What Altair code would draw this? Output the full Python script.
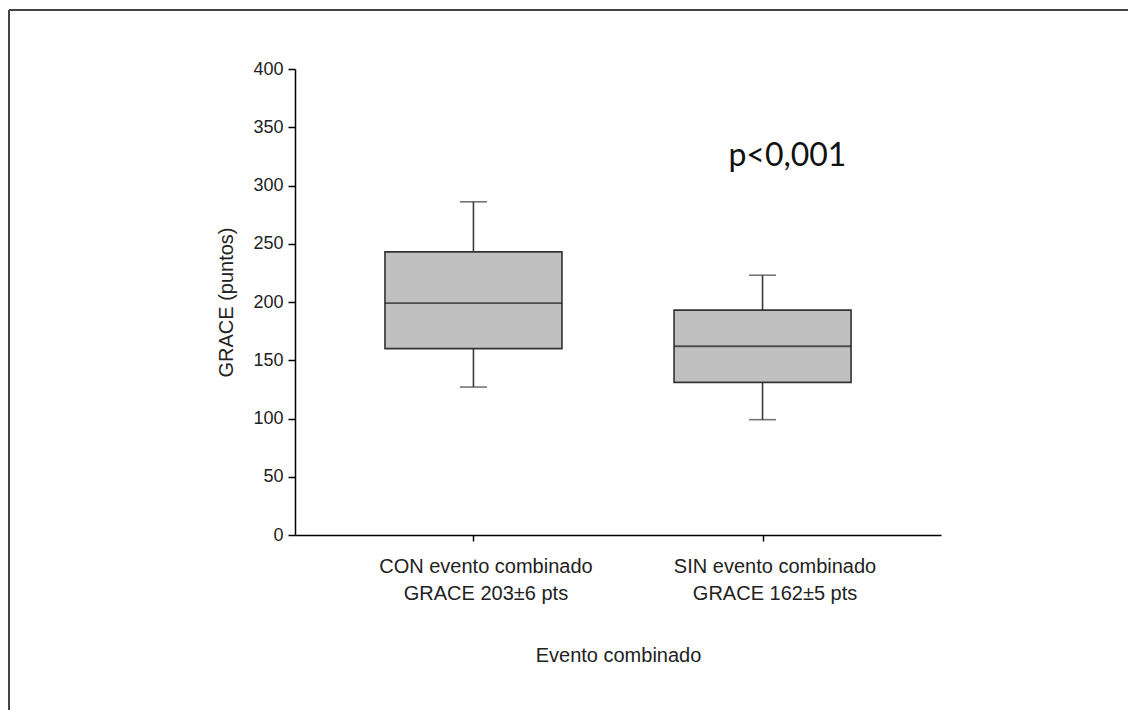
import altair as alt
import pandas as pd

# ---- data ----
positions = [1, 2]
label_line1 = ["CON evento combinado", "SIN evento combinado"]
label_line2 = ["GRACE 203±6 pts", "GRACE 162±5 pts"]
lower_whisker = [127, 99]
q1 = [160, 131]
median = [199, 162]
q3 = [243, 193]
upper_whisker = [286, 223]

y_ticks = [0, 50, 100, 150, 200, 250, 300, 350, 400]

annot_text = ["p<0,001"]
annot_x = [2.086]
annot_y = [317]

df = pd.DataFrame({
    "pos": positions,
    "lo": lower_whisker,
    "q1": q1,
    "med": median,
    "q3": q3,
    "hi": upper_whisker,
})
annot = pd.DataFrame({"t": annot_text, "x": annot_x, "y": annot_y})

label_expr = " : ".join(
    f"datum.value == {p} ? ['{a}', '{b}']" for p, a, b in zip(positions, label_line1, label_line2)
) + " : ''"

x_scale = alt.Scale(domain=[0.4, 2.6], nice=False, zero=False)
y_scale = alt.Scale(domain=[0, 400], nice=False)

x_enc = alt.X(
    "pos:Q",
    scale=x_scale,
    axis=alt.Axis(
        values=positions,
        labelExpr=label_expr,
        labelLimit=0,
        grid=False,
        tickSize=6,
        tickColor="#000",
        tickWidth=1.5,
        domainColor="#000",
        domainWidth=1.5,
        labelFontSize=20,
        labelLineHeight=27,
        labelPadding=15,
        labelOffset=12,
        labelColor="#222",
        labelFont="Liberation Sans",
        title="Evento combinado",
        titleFontSize=20,
        titleFontWeight="normal",
        titlePadding=42,
        titleColor="#222",
        titleFont="Liberation Sans",
    ),
)

y_axis = alt.Axis(
    values=y_ticks,
    grid=False,
    tickSize=7,
    tickColor="#000",
    tickWidth=1.5,
    domainColor="#000",
    domainWidth=1.5,
    labelFontSize=18,
    labelPadding=5,
    labelColor="#222",
    labelFont="Liberation Sans",
    title="GRACE (puntos)",
    titleFontSize=20,
    titleFontWeight="normal",
    titlePadding=16,
    titleColor="#222",
    titleFont="Liberation Sans",
)

base = alt.Chart(df)

whisker = base.mark_rule(color="#3a3a3a", strokeWidth=1.6).encode(
    x=x_enc,
    y=alt.Y("lo:Q", scale=y_scale, axis=y_axis),
    y2="hi:Q",
)

box = base.mark_bar(
    size=177, color="#c0c0c0", stroke="#333333", strokeWidth=1.6
).encode(
    x=alt.X("pos:Q", scale=x_scale),
    y=alt.Y("q1:Q", scale=y_scale),
    y2="q3:Q",
)

med = base.mark_tick(
    size=177, thickness=1.8, orient="horizontal", color="#1e1e1e"
).encode(
    x=alt.X("pos:Q", scale=x_scale),
    y=alt.Y("med:Q", scale=y_scale),
)

caps = base.transform_fold(["lo", "hi"], as_=["k", "v"]).mark_tick(
    size=27, thickness=1.6, orient="horizontal", color="#3a3a3a"
).encode(
    x=alt.X("pos:Q", scale=x_scale),
    y=alt.Y("v:Q", scale=y_scale),
)

ptext = alt.Chart(annot).mark_text(
    font="Lato", fontSize=32, color="#111", align="center", baseline="alphabetic"
).encode(
    x=alt.X("x:Q", scale=x_scale),
    y=alt.Y("y:Q", scale=y_scale),
    text="t:N",
)

one = pd.DataFrame({"a": [0]})
frame_top = alt.Chart(one).mark_rule(color="#444444", strokeWidth=2).encode(
    x=alt.value(9 - 295),
    x2=alt.value(1128 - 295 + 50),
    y=alt.value(10 - 69),
)
frame_left = alt.Chart(one).mark_rule(color="#444444", strokeWidth=2).encode(
    x=alt.value(9 - 295),
    y=alt.value(10 - 69),
    y2=alt.value(710 - 69 + 50),
)

chart = alt.layer(frame_top, frame_left, whisker, box, med, caps, ptext).properties(
    width=646,
    height=466,
    padding={"left": 295, "top": 69, "right": 187, "bottom": 175},
    autosize=alt.AutoSizeParams(type="none"),
    background="white",
).configure(font="Liberation Sans").configure_view(strokeWidth=0, stroke="transparent")

chart.save("out.html", embed_options={"renderer": "svg", "actions": False})
